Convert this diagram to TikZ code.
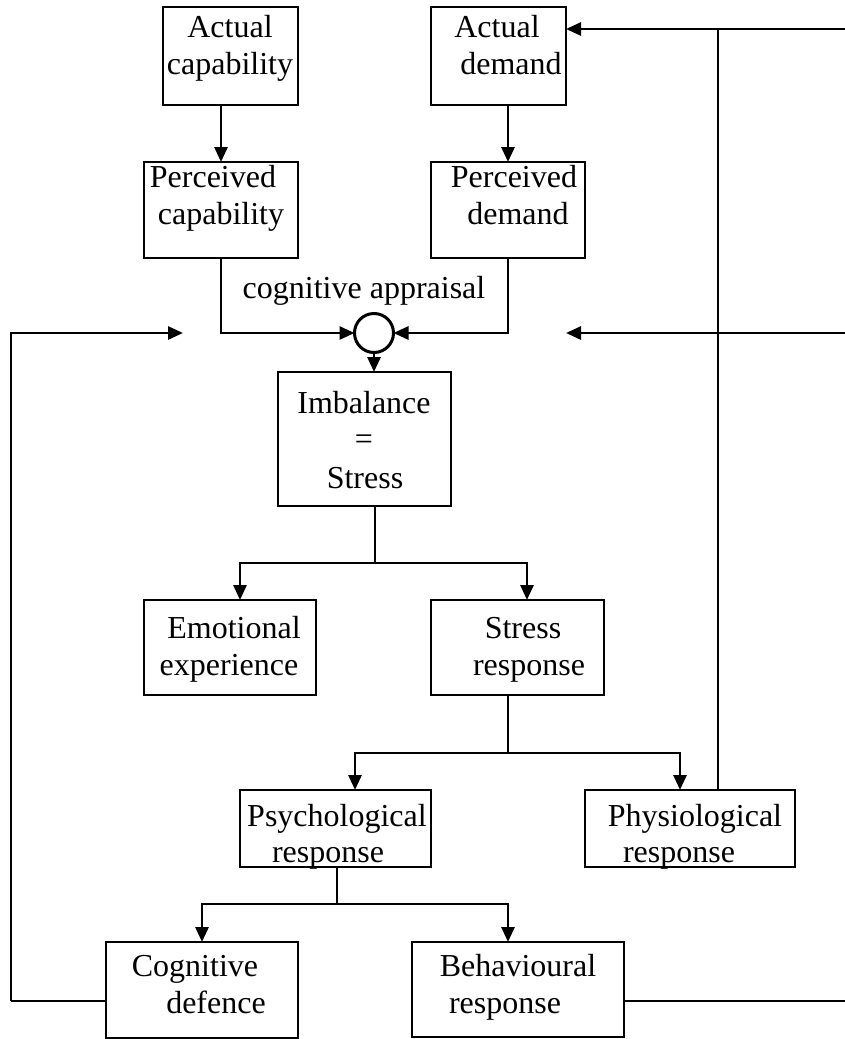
\documentclass[tikz,border=0pt]{standalone}
\usepackage{fontspec}
\setmainfont{Liberation Serif}
\usetikzlibrary{arrows.meta,calc}
\begin{document}
\begin{tikzpicture}[x=1pt,y=-1pt,
  box/.style={draw,line width=2.8pt,inner sep=0pt,outer sep=0pt,rectangle},
  ln/.style={line width=2.8pt},
  arr/.style={ln,-{Triangle[length=15pt,width=13pt]}},
  txt/.style={anchor=base,inner sep=0pt,font=\fontsize{32}{37}\selectfont}]
\useasboundingbox (0,0) rectangle (845,1039);
% boxes
\node[box,minimum width=135,minimum height=98] (ac) at (230.5,56) {};
\node[box,minimum width=135,minimum height=98] (ad) at (498.5,56) {};
\node[box,minimum width=154,minimum height=96] (pc) at (221,210) {};
\node[box,minimum width=154,minimum height=96] (pd) at (508,210) {};
\node[draw,circle,line width=3pt,minimum size=39,inner sep=0pt,outer sep=0pt] (ca) at (374,333) {};
\node[box,minimum width=173,minimum height=134] (imb) at (364.5,439) {};
\node[box,minimum width=172,minimum height=95] (emo) at (230,647.5) {};
\node[box,minimum width=173,minimum height=95] (sr) at (517.5,647.5) {};
\node[box,minimum width=191,minimum height=77] (psy) at (335.5,828.5) {};
\node[box,minimum width=210,minimum height=77] (phy) at (690,828.5) {};
\node[box,minimum width=192,minimum height=96] (cd) at (202,990) {};
\node[box,minimum width=212,minimum height=95] (br) at (518,989.5) {};
% texts
\node[txt] (t1) at (230,37) {Actual};
\node[txt] (t2) at (230,74) {capability};
\node[txt] (t3) at (497,37) {Actual};
\node[txt] (t4) at (511,74) {demand};
\node[txt] (t5) at (213,187) {Perceived};
\node[txt] (t6) at (221,224) {capability};
\node[txt] (t7) at (514,187) {Perceived};
\node[txt] (t8) at (518,224) {demand};
\node[txt] (t9) at (364,298) {cognitive appraisal};
\node[txt] (t10) at (364,413) {Imbalance};
\node[txt] (t11) at (364,449) {=};
\node[txt] (t12) at (365,488) {Stress};
\node[txt] (t13) at (234,638) {Emotional};
\node[txt] (t14) at (229,675) {experience};
\node[txt] (t15) at (523,638) {Stress};
\node[txt] (t16) at (529,675) {response};
\node[txt] (t17) at (337,826) {Psychological};
\node[txt] (t18) at (328,862) {response};
\node[txt] (t19) at (695,826) {Physiological};
\node[txt] (t20) at (679,862) {response};
\node[txt] (t21) at (195,976) {Cognitive};
\node[txt] (t22) at (216,1013) {defence};
\node[txt] (t23) at (518,976) {Behavioural};
\node[txt] (t24) at (505,1013) {response};
% coordinates
\coordinate (j1) at (375,563);
\coordinate (j2) at (508,753);
\coordinate (j3) at (337,904);
\coordinate (redge1) at (845,29);
\coordinate (redge2) at (845,333);
\coordinate (rtip) at (566,333);
\coordinate (redge3) at (845,1001);
\coordinate (lcorner) at (11,1001);
\coordinate (ltip) at (183,333);
% connectors
\draw[arr] (ac.south -| pc.north) -- (pc.north);
\draw[arr] (ad.south -| pd.north) -- (pd.north);
\draw[arr] (pc.south) |- (ca.west);
\draw[arr] (pd.south) |- (ca.east);
\draw[arr] (ca.south) -- (ca.south |- imb.north);
\draw[ln] (imb.south -| j1) -- (j1);
\draw[arr] (j1) -| ([xshift=10pt]emo.north);
\draw[arr] (j1) -| ([xshift=9.5pt]sr.north);
\draw[ln] (sr.south -| j2) -- (j2);
\draw[arr] (j2) -| ([xshift=19.5pt]psy.north);
\draw[arr] (j2) -| ([xshift=-10pt]phy.north);
\draw[ln] (psy.south -| j3) -- (j3);
\draw[arr] (j3) -| (cd.north);
\draw[arr] (j3) -| ([xshift=-10pt]br.north);
\draw[ln] ([xshift=28pt]phy.north) -- ([xshift=28pt]phy.north |- redge1);
\draw[arr] (redge1) -- (ad.east |- redge1);
\draw[arr] (redge2) -- (rtip);
\draw[ln] (cd.west |- lcorner) -- (lcorner);
\draw[arr] (lcorner) |- (ltip);
\draw[ln] (br.east |- redge3) -- (redge3);
\end{tikzpicture}
\end{document}
